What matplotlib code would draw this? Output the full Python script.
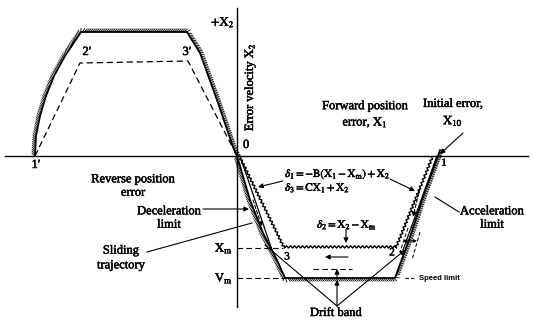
import numpy as np
import matplotlib
matplotlib.use("Agg")
import matplotlib.pyplot as plt
import matplotlib.patheffects as pe
from matplotlib.collections import LineCollection

plt.rcParams['font.family'] = ['Liberation Serif', 'DejaVu Serif']
plt.rcParams['mathtext.fontset'] = 'stix'

# phase plane values (units: X1 to the right, X2 up, origin where the axes cross)
x10 = 200          # initial error X10
x_m = -92          # X_m level of the sliding line
v_m = -122         # V_m speed limit
x2_top = 124       # velocity limit of the reverse move

# reverse move (upper left)
rev_limit_x = [-202, -201, -197, -191, -183, -172, -162, -156, -50, -37, -20, -4, 0]
rev_limit_y = [0, 20, 40, 60, 80, 100, 115, x2_top, x2_top, 103, 56, 9, 0]
rev_traj_x = [-202, -157, -49, 0]
rev_traj_y = [0, 93, 95, 0]

# forward move (lower right): decel limit -> speed limit -> accel limit
limit_x = [0, 13, 26, 40, 48, 158, 173, 186, 201, 203]
limit_y = [0, -44, -77, -104, v_m, v_m, -81, -41, 0, 6]
switch_x = [1, 46, 160, 197]
switch_y = [0, x_m, x_m, 0]
traj_r_x = [x10, 166]
traj_r_y = [0, -94]
traj_l_x = [3, 35]
traj_l_y = [0, -94]
drift_apex = (100, -150)
drift_top = -113

ink = [pe.withStroke(linewidth=0.35, foreground='k')]


def resample(xs, ys, step):
    pts = np.column_stack([xs, ys]).astype(float)
    seg = np.hypot(*np.diff(pts, axis=0).T)
    cum = np.concatenate([[0], np.cumsum(seg)])
    s = np.arange(0, cum[-1], step)
    x = np.interp(s, cum, pts[:, 0])
    y = np.interp(s, cum, pts[:, 1])
    tx, ty = np.gradient(x), np.gradient(y)
    n = np.hypot(tx, ty)
    return x, y, tx / n, ty / n


def hatched(ax, xs, ys, side=1, step=2.0, length=4.5, angle=40, lw=1.3):
    ax.plot(xs, ys, color='k', lw=lw, solid_capstyle='round')
    x, y, tx, ty = resample(xs, ys, step)
    nx, ny = -ty * side, tx * side
    a = np.radians(angle)
    dx = np.cos(a) * nx + np.sin(a) * tx
    dy = np.cos(a) * ny + np.sin(a) * ty
    segs = [[(x[i], y[i]), (x[i] + length * dx[i], y[i] + length * dy[i])]
            for i in range(len(x))]
    ax.add_collection(LineCollection(segs, colors='k', linewidths=0.6))


def sawtooth(ax, xs, ys, side=1, step=2.0, amp=2.2):
    x, y, tx, ty = resample(xs, ys, step)
    off = np.where(np.arange(len(x)) % 2 == 0, 0.0, amp)
    ax.plot(x - ty * side * off, y + tx * side * off, color='k', lw=1.0)


def arrow(ax, start, end, lw=0.8, ls='-'):
    ax.annotate('', xy=end, xytext=start,
                arrowprops=dict(arrowstyle='-|>', lw=lw, color='k', ls=ls,
                                mutation_scale=7, shrinkA=0, shrinkB=0))


def label(ax, x, y, s, size=9, **kw):
    kw.setdefault('ha', 'center')
    kw.setdefault('va', 'center')
    ax.text(x, y, s, fontsize=size, path_effects=ink, **kw)


fig = plt.figure(figsize=(5.33, 3.25), dpi=100)
ax = fig.add_axes([0, 0, 1, 1])
ax.set_xlim(-237, 296)
ax.set_ylim(-169, 156)
ax.axis('off')

# axes
ax.plot([-232, 291], [0, 0], color='k', lw=1.0)
ax.plot([0, 0], [-151, 148], color='k', lw=1.0)

# reverse move
hatched(ax, rev_limit_x, rev_limit_y, side=1)
ax.plot(rev_traj_x, rev_traj_y, color='k', lw=0.9, ls=(0, (5, 3)))

# forward move
hatched(ax, limit_x, limit_y, side=-1)
sawtooth(ax, switch_x, switch_y, side=1)
ax.plot(traj_r_x, traj_r_y, color='k', lw=0.9)
ax.plot(traj_l_x, traj_l_y, color='k', lw=0.9)
ax.plot([0, switch_x[1]], [x_m, x_m], color='k', lw=0.8, ls=(0, (5, 3)))
ax.plot([0, limit_x[4]], [v_m, v_m], color='k', lw=0.8, ls=(0, (5, 3)))

# drift band
ax.plot([28, drift_apex[0]], [-89, drift_apex[1]], color='k', lw=0.8)
arrow(ax, drift_apex, (168, -94))
ax.plot([76, 115], [drift_top, drift_top], color='k', lw=0.8, ls=(0, (5, 3)))
arrow(ax, (drift_apex[0], v_m - 1), (drift_apex[0], drift_top))
arrow(ax, drift_apex, (drift_apex[0], v_m - 2))
arrow(ax, (111, -101), (88, -101))

# dashed arrows and band marks along the trajectories
arrow(ax, (183, -32), (176, -61), ls=(0, (3, 2)))
arrow(ax, (16, -44), (25, -71), ls=(0, (3, 2)))
ax.plot([171, 163], [-72, -96], color='k', lw=0.7, ls=(0, (4, 2)))
ax.plot([183, 175], [-76, -104], color='k', lw=0.7, ls=(0, (4, 2)))
ax.annotate('', xy=(180, -85), xytext=(166, -85),
            arrowprops=dict(arrowstyle='<|-|>', lw=0.7, color='k',
                            mutation_scale=5, shrinkA=0, shrinkB=0))

# axis labels
label(ax, -2, 134, r'$+\mathrm{X_2}$', ha='right')
label(ax, 13, 69, r'Error velocity $\mathrm{X_2}$', rotation=90)
label(ax, 6, 11, '0', ha='left')
label(ax, -201, -9, "1′")
label(ax, -150, 104, "2′")
label(ax, -50, 104, "3′")
label(ax, 128, 41, 'Forward position\n' + r'error, $\mathrm{X_1}$',
      linespacing=1.3)
label(ax, 216, 43, 'Initial error,\n' + r'$\mathrm{X_{10}}$', linespacing=1.3)
arrow(ax, (226, 23), (203, 2))
label(ax, 207, -7, '1', size=7.5)
label(ax, 50, -101, '3', size=8)
label(ax, 155, -97, '2', size=8)

# left-side labels
label(ax, -104, -30, 'Reverse position\nerror', linespacing=1.15)
label(ax, -68, -62, 'Deceleration\nlimit', linespacing=1.15)
arrow(ax, (-34, -53), (12, -53))
label(ax, -116, -102, 'Sliding\ntrajectory', linespacing=1.3)
ax.plot([-90, 15], [-96, -67], color='k', lw=0.8)
label(ax, -4, x_m, r'$\mathrm{X_m}$', ha='right')
label(ax, -4, v_m, r'$\mathrm{V_m}$', ha='right')

# switching line equations
label(ax, 48, -18, r'$\delta_1 = -\mathrm{B(X_1 - X_m) + X_2}$', size=8,
      ha='left')
label(ax, 48, -32, r'$\delta_3 = \mathrm{CX_1 + X_2}$', size=8, ha='left')
arrow(ax, (153, -23), (178, -35))
arrow(ax, (46, -25), (21, -31))
label(ax, 80, -69, r'$\delta_2 = \mathrm{X_2 - X_m}$', size=8, ha='left')
arrow(ax, (109, -74), (109, -87))

# right-side labels
label(ax, 255, -62, 'Acceleration\nlimit', linespacing=1.15)
ax.plot([222, 198], [-56, -41], color='k', lw=0.8)
ax.plot([168, 178], [v_m, v_m], color='k', lw=0.8, ls=(0, (3, 2)))
ax.text(182, v_m, 'Speed limit', ha='left', va='center', fontsize=5.5,
        fontweight='bold', family='Liberation Sans')
label(ax, 99, -157, 'Drift band')

fig.savefig('out.png', dpi=100)
